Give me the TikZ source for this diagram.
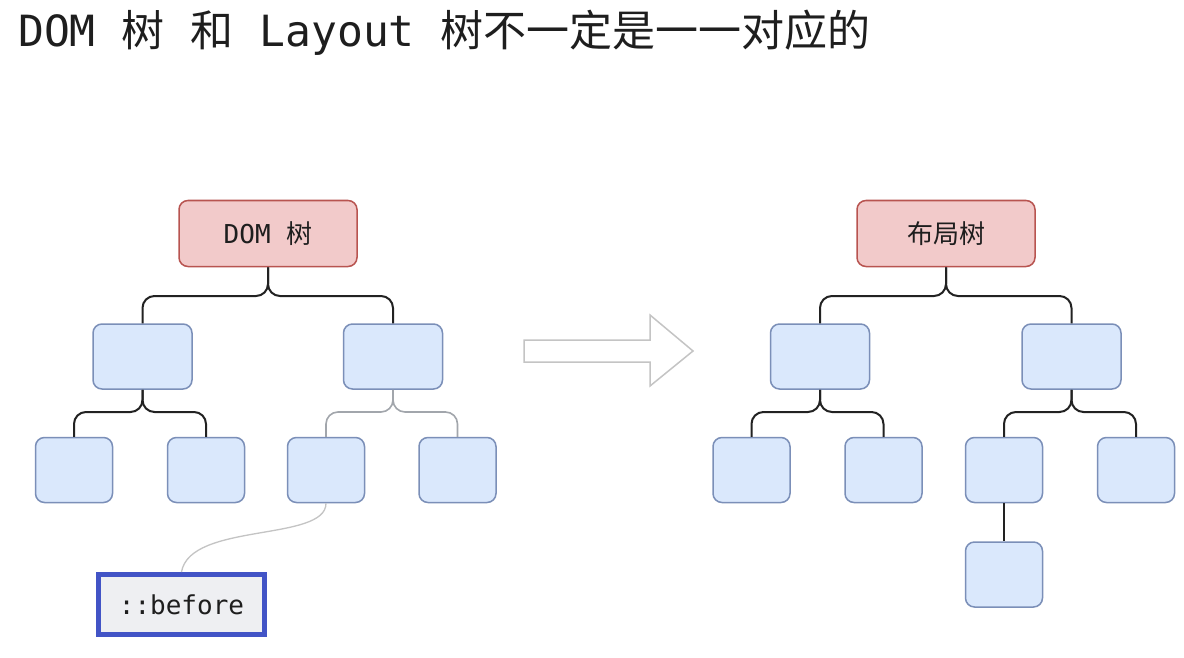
\documentclass[tikz,border=0pt]{standalone}
\usepackage{fontspec}
\setmonofont{DejaVu Sans Mono}
\newfontfamily\cjkf{Noto Sans CJK SC}
\definecolor{rootfill}{HTML}{F2CACA}
\definecolor{rootline}{HTML}{B85450}
\definecolor{bluefill}{HTML}{DAE8FC}
\definecolor{blueline}{HTML}{7B8FB8}
\definecolor{connblack}{HTML}{222222}
\definecolor{conngray}{HTML}{A2A6AC}
\definecolor{beforeline}{HTML}{4254C6}
\definecolor{beforefill}{HTML}{EEEFF2}
\definecolor{arrowline}{HTML}{C4C4C4}
\definecolor{txt}{HTML}{1E1E1E}
\tikzset{
  rootbox/.style={draw=rootline, fill=rootfill, rounded corners=9pt, line width=1.5pt,
    minimum width=178pt, minimum height=66pt, inner sep=0pt, text=txt,
    font=\ttfamily\fontsize{26}{30}\selectfont},
  bluebox/.style={draw=blueline, fill=bluefill, rounded corners=9pt, line width=1.5pt,
    minimum height=65pt, inner sep=0pt},
  midbox/.style={bluebox, minimum width=99pt},
  leafbox/.style={bluebox, minimum width=77pt},
  conn/.style={draw=connblack, line width=2pt, rounded corners=12pt},
  lightconn/.style={draw=conngray, line width=1.6pt, rounded corners=12pt},
  beforebox/.style={draw=beforeline, fill=beforefill, line width=5pt,
    minimum width=166pt, minimum height=60pt, inner sep=0pt, text=txt,
    font=\ttfamily\fontsize{26}{30}\selectfont},
  bigarrow/.style={draw=arrowline, fill=white, line width=1.5pt, line join=miter}
}
\begin{document}
\begin{tikzpicture}[x=1pt,y=-1pt]
\fill[white] (0,0) rectangle (1184,658);
\useasboundingbox (0,0) rectangle (1184,658);

% title
\node[anchor=base west, inner sep=0pt, text=txt,
  font=\ttfamily\fontsize{43}{50}\selectfont] (title) at (18,47)
  {DOM {\cjkf 树} {\cjkf 和} Layout {\cjkf 树不一定是一一对应的}};

% helper levels
\coordinate (yA) at (0,296);
\coordinate (yB) at (0,412);

% ---------- DOM tree ----------
\node[rootbox] (droot) at (268,233.5) {DOM {\cjkf 树}};
\node[midbox] (dl) at (142.5,356.5) {};
\node[midbox] (dr) at (393,356.5) {};
\node[leafbox] (dll) at (74,470) {};
\node[leafbox] (dlr) at (206,470) {};
\node[leafbox] (drl) at (326,470) {};
\node[leafbox] (drr) at (457.5,470) {};
\node[beforebox] (before) at (181.5,604.5) {::before};

\draw[conn] (droot.south) -- (droot.south |- yA) -- (dl.north |- yA) -- (dl.north);
\draw[conn] (droot.south) -- (droot.south |- yA) -- (dr.north |- yA) -- (dr.north);
\draw[conn] (dl.south) -- (dl.south |- yB) -- (dll.north |- yB) -- (dll.north);
\draw[conn] (dl.south) -- (dl.south |- yB) -- (dlr.north |- yB) -- (dlr.north);
\draw[lightconn] (dr.south) -- (dr.south |- yB) -- (drl.north |- yB) -- (drl.north);
\draw[lightconn] (dr.south) -- (dr.south |- yB) -- (drr.north |- yB) -- (drr.north);
\draw[draw=arrowline, line width=1.3pt] (drl.south) .. controls (326,542) and (190,522) .. (before.north);

% ---------- arrow ----------
\draw[bigarrow] (524,340) -- (650,340) -- (650,315) -- (693,351) -- (650,386) -- (650,362) -- (524,362) -- cycle;

% ---------- layout tree ----------
\node[rootbox, font=\cjkf\fontsize{26}{30}\selectfont] (lroot) at (946,233.5) {布局树};
\node[midbox] (ll) at (820,356.5) {};
\node[midbox] (lr) at (1071.5,356.5) {};
\node[leafbox] (lll) at (751.5,470) {};
\node[leafbox] (llr) at (883.5,470) {};
\node[leafbox] (lrl) at (1004,470) {};
\node[leafbox] (lrr) at (1136,470) {};
\node[leafbox] (lrlc) at (1004,574.5) {};

\draw[conn] (lroot.south) -- (lroot.south |- yA) -- (ll.north |- yA) -- (ll.north);
\draw[conn] (lroot.south) -- (lroot.south |- yA) -- (lr.north |- yA) -- (lr.north);
\draw[conn] (ll.south) -- (ll.south |- yB) -- (lll.north |- yB) -- (lll.north);
\draw[conn] (ll.south) -- (ll.south |- yB) -- (llr.north |- yB) -- (llr.north);
\draw[conn] (lr.south) -- (lr.south |- yB) -- (lrl.north |- yB) -- (lrl.north);
\draw[conn] (lr.south) -- (lr.south |- yB) -- (lrr.north |- yB) -- (lrr.north);
\draw[conn] (lrl.south) -- (lrlc.north);
\end{tikzpicture}
\end{document}
